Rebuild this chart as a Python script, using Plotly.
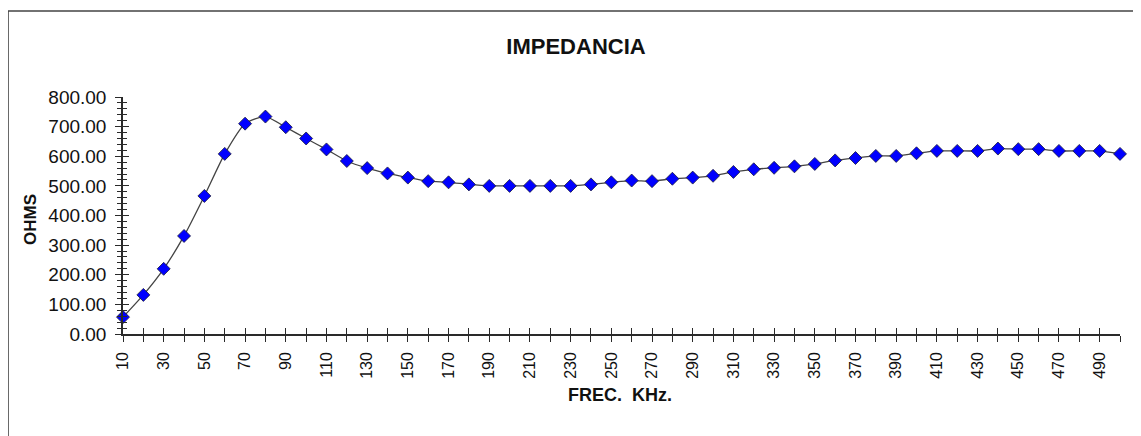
import plotly.graph_objects as go

# ---- data ----
freq_khz = [10, 20, 30, 40, 50, 60, 70, 80, 90, 100,
            110, 120, 130, 140, 150, 160, 170, 180, 190, 200,
            210, 220, 230, 240, 250, 260, 270, 280, 290, 300,
            310, 320, 330, 340, 350, 360, 370, 380, 390, 400,
            410, 420, 430, 440, 450, 460, 470, 480, 490, 500]
ohms = [57, 132, 220, 331, 466, 608, 710, 734, 698, 660,
        623, 584, 560, 542, 528, 516, 512, 505, 500, 500,
        500, 500, 500, 505, 512, 518, 516, 524, 528, 534,
        547, 556, 561, 566, 574, 586, 594, 601, 601, 610,
        618, 618, 618, 626, 624, 624, 618, 618, 618, 608]
x_tick_vals = freq_khz
x_tick_text = [str(v) if (v // 10) % 2 == 1 else "" for v in freq_khz]

# page body margin offsets the figure by 8px in the browser
OFF = 8
W, H = 1141, 436
# desired plot area in screen pixels: x 123..1120, y 97..334
L = 123 - OFF
T = 97 - OFF
pw = 1120 - 123
ph = 334 - 97
R = W - L - pw
B = H - T - ph

def px_x(p):  # screen px -> paper
    return (p - OFF - L) / pw

def px_y(p):
    return (T + ph - (p - OFF)) / ph

FONT = "Liberation Sans, Arial, sans-serif"
AXC = "#2a2a2a"

fig = go.Figure()
fig.add_trace(go.Scatter(
    x=freq_khz, y=ohms, mode="lines+markers",
    line=dict(color="#444444", width=1.3, shape="spline", smoothing=0.6),
    marker=dict(symbol="diamond", size=10, color="#0000FF",
                line=dict(color="#1a1a3a", width=0.8)),
    cliponaxis=False, showlegend=False, hoverinfo="x+y"))
# invisible trace on overlay axes (for ticks pointing inward)
fig.add_trace(go.Scatter(
    x=freq_khz, y=ohms, xaxis="x2", yaxis="y2", mode="markers",
    marker=dict(opacity=0), showlegend=False, hoverinfo="skip"))

fig.update_layout(
    width=W, height=H,
    margin=dict(l=L, r=R, t=T, b=B),
    paper_bgcolor="white", plot_bgcolor="white",
    font=dict(family=FONT, color="#111111"),
    title=dict(text="<b>IMPEDANCIA</b>", xref="container", yref="container",
               x=(576 - OFF) / W, y=1 - (46 - OFF) / H,
               xanchor="center", yanchor="middle",
               font=dict(size=22, family=FONT, color="#111111")),
    xaxis=dict(range=[10, 500], tickmode="array", tickvals=x_tick_vals,
               ticktext=x_tick_text, tickangle=-90, ticks="outside",
               ticklen=6, tickwidth=1.3, tickcolor=AXC,
               showline=True, linecolor=AXC, linewidth=1.5,
               showgrid=False, zeroline=False,
               tickfont=dict(size=16, family=FONT), ticklabelstandoff=4),
    yaxis=dict(range=[0, 800], dtick=100, tick0=0, tickformat=".2f",
               ticks="outside", ticklen=6, tickwidth=1.3, tickcolor=AXC,
               minor=dict(dtick=20, ticks="outside", ticklen=4,
                          tickwidth=1.2, tickcolor=AXC, showgrid=False),
               showline=True, linecolor=AXC, linewidth=1.5,
               showgrid=False, zeroline=False,
               tickfont=dict(size=19, family=FONT), ticklabelstandoff=5),
    xaxis2=dict(overlaying="x", anchor="y2", side="bottom", range=[10, 500],
                tickmode="array", tickvals=x_tick_vals, ticks="inside",
                ticklen=6, tickwidth=1.3, tickcolor=AXC,
                showticklabels=False, showline=False, showgrid=False,
                zeroline=False),
    yaxis2=dict(overlaying="y", anchor="x2", side="left", range=[0, 800],
                dtick=100, tick0=0, ticks="inside", ticklen=6,
                tickwidth=1.3, tickcolor=AXC,
                minor=dict(dtick=20, ticks="inside", ticklen=4,
                           tickwidth=1.2, tickcolor=AXC, showgrid=False),
                showticklabels=False, showline=False, showgrid=False,
                zeroline=False),
    annotations=[
        dict(text="<b>OHMS</b>", xref="paper", yref="paper",
             x=px_x(30), y=px_y(220), textangle=-90, showarrow=False,
             xanchor="center", yanchor="middle",
             font=dict(size=17, family=FONT, color="#111111")),
        dict(text="<b>FREC.  KHz.</b>", xref="paper", yref="paper",
             x=px_x(620), y=px_y(395), showarrow=False,
             xanchor="center", yanchor="middle",
             font=dict(size=18, family=FONT, color="#111111")),
    ],
    shapes=[
        dict(type="rect", xref="paper", yref="paper",
             x0=px_x(8), x1=px_x(W + 20), y0=px_y(H + 20), y1=px_y(11),
             line=dict(color="#444444", width=1.6), layer="below"),
    ],
)

fig.write_html("out.html")
